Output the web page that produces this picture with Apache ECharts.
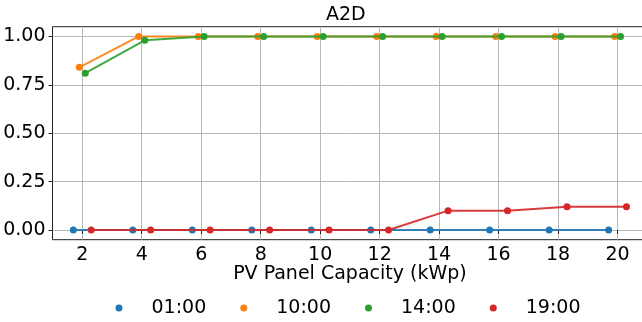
<!DOCTYPE html>
<html>
<head>
<meta charset="utf-8">
<script src="https://cdn.jsdelivr.net/npm/echarts@6/dist/echarts.min.js"></script>
<style>html,body{margin:0;padding:0;background:#fff}#c{width:642px;height:322px}</style>
</head>
<body>
<div id="c"></div>
<script>
const capacities = [2, 4, 6, 8, 10, 12, 14, 16, 18, 20];
const seriesNames = ['01:00', '10:00', '14:00', '19:00'];
const offsets = [-0.3, -0.1, 0.1, 0.3];
const colors = ['#1f77b4', '#ff7f0e', '#2ca02c', '#d62728'];
const v0100 = [0, 0, 0, 0, 0, 0, 0, 0, 0, 0];
const v1000 = [0.84, 1, 1, 1, 1, 1, 1, 1, 1, 1];
const v1400 = [0.81, 0.98, 1, 1, 1, 1, 1, 1, 1, 1];
const v1900 = [0, 0, 0, 0, 0, 0, 0.1, 0.1, 0.12, 0.12];
const xTicks = [2, 4, 6, 8, 10, 12, 14, 16, 18, 20];
const yTicks = [0, 0.25, 0.5, 0.75, 1.0];
const allValues = [v0100, v1000, v1400, v1900];

const FONT = 'DejaVu Sans';
const FS = 19;

const chart = echarts.init(document.getElementById('c'), null, {renderer: 'canvas'});
chart.setOption({
  animation: false,
  backgroundColor: '#fff',
  textStyle: {fontFamily: FONT},
  title: {
    text: 'A2D', left: 326, top: 6, padding: 0,
    textStyle: {fontFamily: FONT, fontSize: FS, fontWeight: 'normal', color: '#000'}
  },
  grid: {
    left: 52.5, top: 26.7, width: 594.8, height: 213,
    outerBoundsMode: 'none', containLabel: false,
    show: true, borderColor: '#222', borderWidth: 1, backgroundColor: 'transparent'
  },
  legend: {
    left: 115.5, top: 298.5, padding: 0, icon: 'circle', itemWidth: 7, itemHeight: 7, itemGap: 34,
    formatter: '{g| }{name}',
    textStyle: {fontFamily: FONT, fontSize: FS, color: '#000', rich: {g: {width: 24, fontSize: FS}}},
    data: seriesNames
  },
  xAxis: {
    type: 'value', min: 1, max: 21,
    name: 'PV Panel Capacity (kWp)', nameLocation: 'middle', nameGap: 25, nameMoveOverlap: false,
    nameTextStyle: {fontFamily: FONT, fontSize: FS, color: '#000'},
    axisLine: {show: false},
    axisTick: {show: true, length: 4, lineStyle: {color: '#222', width: 1}, customValues: xTicks},
    axisLabel: {fontFamily: FONT, fontSize: FS, color: '#000', margin: 6, customValues: xTicks},
    splitLine: {show: true, lineStyle: {color: '#b0b0b0', width: 0.9}}
  },
  yAxis: {
    type: 'value', min: -0.05, max: 1.05,
    axisLine: {show: false},
    axisTick: {show: true, length: 4, lineStyle: {color: '#222', width: 1}, customValues: yTicks},
    axisLabel: {fontFamily: FONT, fontSize: FS, color: '#000', margin: 7,
      formatter: v => v.toFixed(2), customValues: yTicks},
    splitLine: {show: true, lineStyle: {color: '#b0b0b0', width: 0.9}}
  },
  series: seriesNames.map((name, i) => ({
    name: name, type: 'line',
    data: capacities.map((c, j) => [c + offsets[i], allValues[i][j]]),
    symbol: 'circle', symbolSize: 7, showSymbol: true,
    itemStyle: {color: colors[i]},
    lineStyle: {color: colors[i], width: 2, opacity: 0.9},
    z: 2 + i
  }))
});
</script>
</body>
</html>
